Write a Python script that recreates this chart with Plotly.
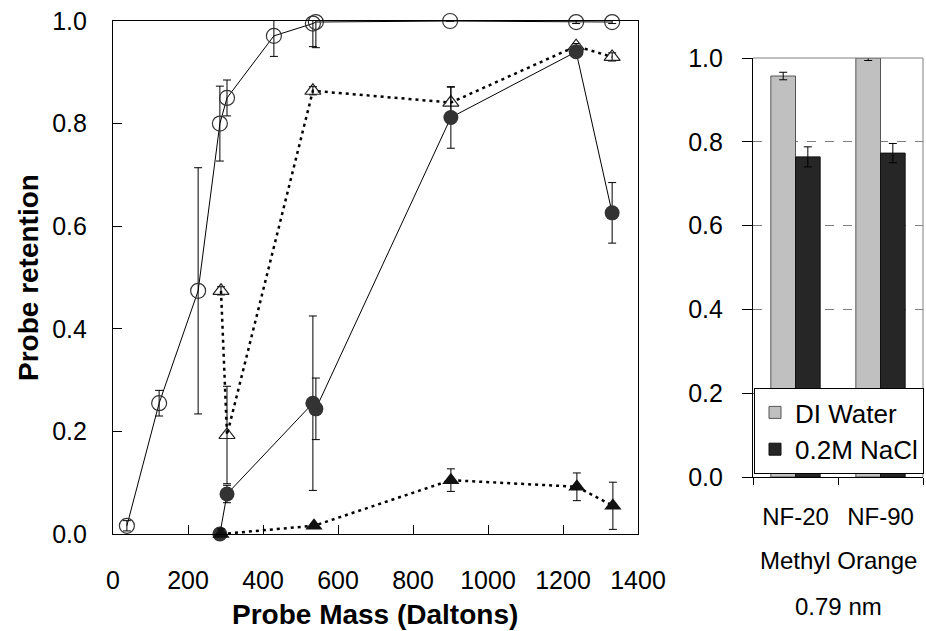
import plotly.graph_objects as go

# ---------------- Left panel data (Probe Mass vs retention) ----------------
oc_x = [37, 123, 227, 285, 304, 429, 533, 541, 899, 1235, 1331]
oc_y = [0.016, 0.255, 0.474, 0.80, 0.85, 0.971, 0.995, 0.998, 1.0, 0.998, 0.998]
oc_e = [0.01, 0.025, 0.24, 0.073, 0.035, 0.04, 0.045, 0.05, 0.0, 0.003, 0.003]

ot_x = [288, 304, 533, 901, 1235, 1331]
ot_y = [0.474, 0.193, 0.864, 0.841, 0.951, 0.930]
ot_e = [0.008, 0.095, 0.008, 0.03, 0.005, 0.008]

fc_x = [285, 304, 533, 541, 901, 1235, 1331]
fc_y = [0.0, 0.078, 0.255, 0.244, 0.812, 0.940, 0.626]
fc_e = [0.01, 0.017, 0.17, 0.06, 0.06, 0.01, 0.059]

ft_x = [288, 536, 901, 1237, 1333]
ft_y = [0.0, 0.016, 0.105, 0.092, 0.055]
ft_e = [0.01, 0.004, 0.022, 0.027, 0.046]

x_ticks = [0, 200, 400, 600, 800, 1000, 1200, 1400]
y_ticks = [0.0, 0.2, 0.4, 0.6, 0.8, 1.0]

# ---------------- Right panel data (Methyl Orange) ----------------
membranes = ["NF-20", "NF-90"]
di_water = [0.957, 1.0]
di_water_err = [0.009, 0.006]
nacl = [0.764, 0.773]
nacl_err = [0.024, 0.023]

FONT = "Arial, Liberation Sans, sans-serif"
W, H = 926, 631

fig = go.Figure()

err_style = dict(type="data", visible=True, color="black", thickness=1, width=4)

fig.add_trace(go.Scatter(
    x=oc_x, y=oc_y, mode="lines+markers", showlegend=False, cliponaxis=False,
    line=dict(color="black", width=1),
    marker=dict(symbol="circle-open", size=15, color="#333333", line=dict(width=1.2)),
    error_y=dict(array=oc_e, **err_style), xaxis="x", yaxis="y"))

fig.add_trace(go.Scatter(
    x=ot_x, y=ot_y, mode="lines+markers", showlegend=False, cliponaxis=False,
    line=dict(color="black", width=2.5, dash="3px,4px"),
    marker=dict(symbol="triangle-up-open", size=14, color="#222222", line=dict(width=1.2)),
    error_y=dict(array=ot_e, **err_style), xaxis="x", yaxis="y"))

fig.add_trace(go.Scatter(
    x=fc_x, y=fc_y, mode="lines+markers", showlegend=False, cliponaxis=False,
    line=dict(color="black", width=1),
    marker=dict(symbol="circle", size=15, color="#333333"),
    error_y=dict(array=fc_e, **err_style), xaxis="x", yaxis="y"))

fig.add_trace(go.Scatter(
    x=ft_x, y=ft_y, mode="lines+markers", showlegend=False, cliponaxis=False,
    line=dict(color="black", width=2.5, dash="3px,4px"),
    marker=dict(symbol="triangle-up", size=15, color="#111111"),
    error_y=dict(array=ft_e, **err_style), xaxis="x", yaxis="y"))

fig.add_trace(go.Bar(
    x=membranes, y=di_water, name="DI Water",
    marker=dict(color="#c0c0c0", line=dict(color="#555555", width=1)),
    error_y=dict(array=di_water_err, type="data", color="black", thickness=1, width=4),
    xaxis="x2", yaxis="y2"))

fig.add_trace(go.Bar(
    x=membranes, y=nacl, name="0.2M NaCl",
    marker=dict(color="#262626", line=dict(color="#111111", width=1)),
    error_y=dict(array=nacl_err, type="data", color="black", thickness=1, width=4),
    xaxis="x2", yaxis="y2"))

tick_font = dict(family=FONT, size=25, color="black")

fig.update_layout(
    width=W, height=H,
    margin=dict(l=0, r=0, t=0, b=0),
    paper_bgcolor="white", plot_bgcolor="white",
    font=dict(family=FONT, color="black"),
    barmode="group", bargap=0.42, bargroupgap=0,
    xaxis=dict(
        domain=[113 / W, 638 / W], range=[0, 1400],
        tickvals=x_ticks, ticks="inside", ticklen=9, tickcolor="black",
        showline=True, linecolor="black", linewidth=1.2, mirror=True,
        showgrid=False, zeroline=False, tickfont=tick_font,
        ticklabelstandoff=24, automargin=False),
    yaxis=dict(
        domain=[(H - 534) / H, (H - 21) / H], range=[0, 1.0],
        tickvals=y_ticks, tickformat=".1f", ticks="inside", ticklen=9, tickcolor="black",
        showline=True, linecolor="black", linewidth=1.2, mirror=True,
        showgrid=False, zeroline=False, tickfont=tick_font,
        ticklabelstandoff=20, automargin=False),
    xaxis2=dict(
        domain=[753 / W, 923 / W], anchor="y2", type="category",
        tickson="boundaries", ticks="outside", ticklen=7, tickcolor="black",
        showline=True, linecolor="black", linewidth=1.2,
        showgrid=False, zeroline=False, tickfont=dict(family=FONT, size=24, color="black"),
        ticklabelstandoff=18, automargin=False),
    yaxis2=dict(
        domain=[(H - 477) / H, (H - 58) / H], anchor="x2", range=[0, 1.0],
        tickvals=y_ticks, tickformat=".1f", ticks="outside", ticklen=10, tickcolor="black",
        showline=True, linecolor="black", linewidth=1.2,
        showgrid=True, gridcolor="#808080", gridwidth=1, griddash="dash",
        zeroline=False, tickfont=tick_font, ticklabelstandoff=14, automargin=False),
    legend=dict(
        x=754 / W, y=(H - 388) / H, xanchor="left", yanchor="top",
        bgcolor="white", bordercolor="black", borderwidth=1,
        font=dict(family=FONT, size=26, color="black"),
        tracegroupgap=0, itemwidth=30),
    showlegend=True,
)

# gray frame on right panel (top and right)
fig.add_shape(type="line", xref="paper", yref="paper",
              x0=753 / W, x1=923 / W, y0=(H - 58) / H, y1=(H - 58) / H,
              line=dict(color="#808080", width=1))
fig.add_shape(type="line", xref="paper", yref="paper",
              x0=923 / W, x1=923 / W, y0=(H - 477) / H, y1=(H - 58) / H,
              line=dict(color="#808080", width=1))

fig.add_annotation(text="<b>Probe retention</b>", textangle=-90,
                   xref="paper", yref="paper", x=28 / W, y=(H - 278) / H,
                   xanchor="center", yanchor="middle", showarrow=False,
                   font=dict(family=FONT, size=28, color="black"))
fig.add_annotation(text="<b>Probe Mass (Daltons)</b>",
                   xref="paper", yref="paper", x=375 / W, y=(H - 614) / H,
                   xanchor="center", yanchor="middle", showarrow=False,
                   font=dict(family=FONT, size=28, color="black"))
fig.add_annotation(text="Methyl Orange",
                   xref="paper", yref="paper", x=838 / W, y=(H - 560) / H,
                   xanchor="center", yanchor="middle", showarrow=False,
                   font=dict(family=FONT, size=24, color="black"))
fig.add_annotation(text="0.79 nm",
                   xref="paper", yref="paper", x=838 / W, y=(H - 606) / H,
                   xanchor="center", yanchor="middle", showarrow=False,
                   font=dict(family=FONT, size=24, color="black"))

fig.write_html("out.html")
